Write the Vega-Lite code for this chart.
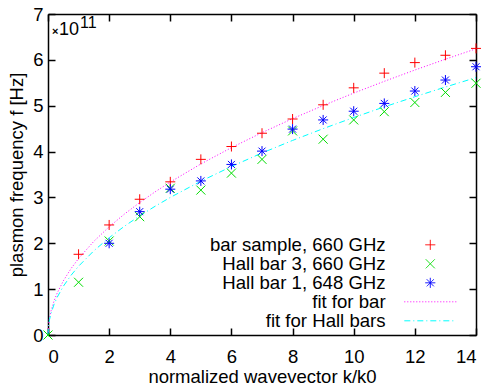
{
  "$schema": "https://vega.github.io/schema/vega-lite/v6.json",
  "width": 428,
  "height": 321,
  "autosize": "none",
  "padding": {"left": 48, "top": 14, "right": 11, "bottom": 55},
  "config": {
    "view": {"stroke": null},
    "font": "Liberation Sans",
    "axis": {
      "labelFont": "Liberation Sans", "labelFontSize": 18.5, "labelColor": "black",
      "titleFont": "Liberation Sans", "titleFontSize": 18.5, "titleFontWeight": "normal", "titleColor": "black",
      "domainColor": "black", "domainWidth": 1.5, "tickColor": "black", "tickWidth": 1.5,
      "tickSize": -7, "grid": false
    }
  },
  "datasets": {
    "pts": [
      {"k": 1, "f": 1.76, "series": "bar sample, 660 GHz"},
      {"k": 2, "f": 2.40, "series": "bar sample, 660 GHz"},
      {"k": 3, "f": 2.96, "series": "bar sample, 660 GHz"},
      {"k": 4, "f": 3.34, "series": "bar sample, 660 GHz"},
      {"k": 5, "f": 3.83, "series": "bar sample, 660 GHz"},
      {"k": 6, "f": 4.11, "series": "bar sample, 660 GHz"},
      {"k": 7, "f": 4.40, "series": "bar sample, 660 GHz"},
      {"k": 8, "f": 4.71, "series": "bar sample, 660 GHz"},
      {"k": 9, "f": 5.02, "series": "bar sample, 660 GHz"},
      {"k": 10, "f": 5.39, "series": "bar sample, 660 GHz"},
      {"k": 11, "f": 5.71, "series": "bar sample, 660 GHz"},
      {"k": 12, "f": 5.94, "series": "bar sample, 660 GHz"},
      {"k": 13, "f": 6.10, "series": "bar sample, 660 GHz"},
      {"k": 14, "f": 6.25, "series": "bar sample, 660 GHz"},
      {"k": 0, "f": 0, "series": "Hall bar 3, 660 GHz"},
      {"k": 1, "f": 1.15, "series": "Hall bar 3, 660 GHz"},
      {"k": 2, "f": 2.05, "series": "Hall bar 3, 660 GHz"},
      {"k": 3, "f": 2.58, "series": "Hall bar 3, 660 GHz"},
      {"k": 4, "f": 3.20, "series": "Hall bar 3, 660 GHz"},
      {"k": 5, "f": 3.16, "series": "Hall bar 3, 660 GHz"},
      {"k": 6, "f": 3.53, "series": "Hall bar 3, 660 GHz"},
      {"k": 7, "f": 3.83, "series": "Hall bar 3, 660 GHz"},
      {"k": 8, "f": 4.45, "series": "Hall bar 3, 660 GHz"},
      {"k": 9, "f": 4.27, "series": "Hall bar 3, 660 GHz"},
      {"k": 10, "f": 4.69, "series": "Hall bar 3, 660 GHz"},
      {"k": 11, "f": 4.87, "series": "Hall bar 3, 660 GHz"},
      {"k": 12, "f": 5.07, "series": "Hall bar 3, 660 GHz"},
      {"k": 13, "f": 5.29, "series": "Hall bar 3, 660 GHz"},
      {"k": 14, "f": 5.49, "series": "Hall bar 3, 660 GHz"},
      {"k": 2, "f": 2.00, "series": "Hall bar 1, 648 GHz"},
      {"k": 3, "f": 2.69, "series": "Hall bar 1, 648 GHz"},
      {"k": 4, "f": 3.18, "series": "Hall bar 1, 648 GHz"},
      {"k": 5, "f": 3.36, "series": "Hall bar 1, 648 GHz"},
      {"k": 6, "f": 3.72, "series": "Hall bar 1, 648 GHz"},
      {"k": 7, "f": 4.01, "series": "Hall bar 1, 648 GHz"},
      {"k": 8, "f": 4.49, "series": "Hall bar 1, 648 GHz"},
      {"k": 9, "f": 4.69, "series": "Hall bar 1, 648 GHz"},
      {"k": 10, "f": 4.88, "series": "Hall bar 1, 648 GHz"},
      {"k": 11, "f": 5.05, "series": "Hall bar 1, 648 GHz"},
      {"k": 12, "f": 5.32, "series": "Hall bar 1, 648 GHz"},
      {"k": 13, "f": 5.56, "series": "Hall bar 1, 648 GHz"},
      {"k": 14, "f": 5.85, "series": "Hall bar 1, 648 GHz"}
    ],
    "fits": [
      {"k": 0, "f": 0, "series": "fit for bar"},
      {"k": 0.02, "f": 0.236, "series": "fit for bar"},
      {"k": 0.05, "f": 0.373, "series": "fit for bar"},
      {"k": 0.1, "f": 0.527, "series": "fit for bar"},
      {"k": 0.2, "f": 0.746, "series": "fit for bar"},
      {"k": 0.3, "f": 0.914, "series": "fit for bar"},
      {"k": 0.5, "f": 1.179, "series": "fit for bar"},
      {"k": 0.75, "f": 1.445, "series": "fit for bar"},
      {"k": 1, "f": 1.668, "series": "fit for bar"},
      {"k": 1.5, "f": 2.043, "series": "fit for bar"},
      {"k": 2, "f": 2.359, "series": "fit for bar"},
      {"k": 2.5, "f": 2.637, "series": "fit for bar"},
      {"k": 3, "f": 2.889, "series": "fit for bar"},
      {"k": 3.5, "f": 3.120, "series": "fit for bar"},
      {"k": 4, "f": 3.336, "series": "fit for bar"},
      {"k": 5, "f": 3.730, "series": "fit for bar"},
      {"k": 6, "f": 4.086, "series": "fit for bar"},
      {"k": 7, "f": 4.413, "series": "fit for bar"},
      {"k": 8, "f": 4.718, "series": "fit for bar"},
      {"k": 9, "f": 5.004, "series": "fit for bar"},
      {"k": 10, "f": 5.275, "series": "fit for bar"},
      {"k": 11, "f": 5.532, "series": "fit for bar"},
      {"k": 12, "f": 5.778, "series": "fit for bar"},
      {"k": 13, "f": 6.014, "series": "fit for bar"},
      {"k": 14, "f": 6.241, "series": "fit for bar"},
      {"k": 0, "f": 0, "series": "fit for Hall bars"},
      {"k": 0.02, "f": 0.212, "series": "fit for Hall bars"},
      {"k": 0.05, "f": 0.335, "series": "fit for Hall bars"},
      {"k": 0.1, "f": 0.474, "series": "fit for Hall bars"},
      {"k": 0.2, "f": 0.671, "series": "fit for Hall bars"},
      {"k": 0.3, "f": 0.822, "series": "fit for Hall bars"},
      {"k": 0.5, "f": 1.061, "series": "fit for Hall bars"},
      {"k": 0.75, "f": 1.299, "series": "fit for Hall bars"},
      {"k": 1, "f": 1.5, "series": "fit for Hall bars"},
      {"k": 1.5, "f": 1.837, "series": "fit for Hall bars"},
      {"k": 2, "f": 2.121, "series": "fit for Hall bars"},
      {"k": 2.5, "f": 2.372, "series": "fit for Hall bars"},
      {"k": 3, "f": 2.598, "series": "fit for Hall bars"},
      {"k": 3.5, "f": 2.806, "series": "fit for Hall bars"},
      {"k": 4, "f": 3.0, "series": "fit for Hall bars"},
      {"k": 5, "f": 3.354, "series": "fit for Hall bars"},
      {"k": 6, "f": 3.674, "series": "fit for Hall bars"},
      {"k": 7, "f": 3.969, "series": "fit for Hall bars"},
      {"k": 8, "f": 4.243, "series": "fit for Hall bars"},
      {"k": 9, "f": 4.5, "series": "fit for Hall bars"},
      {"k": 10, "f": 4.743, "series": "fit for Hall bars"},
      {"k": 11, "f": 4.975, "series": "fit for Hall bars"},
      {"k": 12, "f": 5.196, "series": "fit for Hall bars"},
      {"k": 13, "f": 5.408, "series": "fit for Hall bars"},
      {"k": 14, "f": 5.613, "series": "fit for Hall bars"}
    ]
  },
  "resolve": {"axis": {"x": "independent", "y": "independent"}},
  "layer": [
    {
      "data": {"name": "fits"},
      "mark": {"type": "line", "strokeWidth": 1},
      "encoding": {
        "x": {"field": "k", "type": "quantitative", "scale": {"domain": [0, 14], "nice": false}, "axis": null},
        "y": {"field": "f", "type": "quantitative", "scale": {"domain": [0, 7], "nice": false}, "axis": null},
        "color": {
          "field": "series", "type": "nominal",
          "scale": {
            "domain": ["bar sample, 660 GHz", "Hall bar 3, 660 GHz", "Hall bar 1, 648 GHz", "fit for bar", "fit for Hall bars"],
            "range": ["#ff0000", "#00dd00", "#0000ff", "#ff00ff", "#00ffff"]
          },
          "legend": {"orient": "none", "legendX": 373, "legendY": 221.5, "title": null, "labelAlign": "right", "labelOffset": -54, "labelFontSize": 18.6, "labelLimit": 300, "labelFont": "Liberation Sans", "labelColor": "black", "symbolSize": 100, "symbolStrokeWidth": 1, "rowPadding": 0, "padding": 0}
        },
        "strokeDash": {
          "field": "series", "type": "nominal",
          "scale": {
            "domain": ["bar sample, 660 GHz", "Hall bar 3, 660 GHz", "Hall bar 1, 648 GHz", "fit for bar", "fit for Hall bars"],
            "range": [[1, 0], [1, 0], [1, 0], [1, 2], [6, 3, 1, 3]]
          },
          "legend": {"orient": "none", "legendX": 373, "legendY": 221.5, "title": null, "labelAlign": "right", "labelOffset": -54, "labelFontSize": 18.6, "labelLimit": 300, "labelFont": "Liberation Sans", "labelColor": "black", "symbolSize": 100, "symbolStrokeWidth": 1, "rowPadding": 0, "padding": 0}
        }
      }
    },
    {
      "data": {"name": "pts"},
      "mark": {"type": "point", "filled": false, "strokeWidth": 1, "size": 100, "opacity": 1},
      "encoding": {
        "x": {"field": "k", "type": "quantitative", "axis": {"orient": "bottom", "values": [0, 2, 4, 6, 8, 10, 12, 14], "title": "normalized wavevector k/k0", "labelPadding": 19, "titlePadding": 2}},
        "y": {"field": "f", "type": "quantitative", "axis": {"orient": "left", "values": [0, 1, 2, 3, 4, 5, 6, 7], "title": "plasmon frequency f [Hz]", "labelPadding": 12, "titlePadding": 6}},
        "color": {"field": "series", "type": "nominal"},
        "shape": {
          "field": "series", "type": "nominal",
          "scale": {
            "domain": ["bar sample, 660 GHz", "Hall bar 3, 660 GHz", "Hall bar 1, 648 GHz", "fit for bar", "fit for Hall bars"],
            "range": ["M-1,0H1M0,-1V1", "M-0.9,-0.9L0.9,0.9M-0.9,0.9L0.9,-0.9", "M-1,0H1M0,-1V1M-0.7,-0.7L0.7,0.7M-0.7,0.7L0.7,-0.7", "M-5.2,0H5.2", "M-5.2,0H5.2"]
          },
          "legend": {"orient": "none", "legendX": 373, "legendY": 221.5, "title": null, "labelAlign": "right", "labelOffset": -54, "labelFontSize": 18.6, "labelLimit": 300, "labelFont": "Liberation Sans", "labelColor": "black", "symbolSize": 100, "symbolStrokeWidth": 1, "rowPadding": 0, "padding": 0}
        }
      }
    },
    {
      "data": {"values": [{"k": 0, "f": 7, "t": "×"}]},
      "mark": {"type": "text", "align": "left", "baseline": "alphabetic", "dx": 4, "dy": 21, "fontSize": 11, "fontWeight": "bold", "font": "Liberation Sans", "color": "black"},
      "encoding": {
        "x": {"field": "k", "type": "quantitative", "axis": {"orient": "top", "values": [0, 2, 4, 6, 8, 10, 12, 14], "labels": false, "title": null}},
        "y": {"field": "f", "type": "quantitative", "axis": {"orient": "right", "values": [0, 1, 2, 3, 4, 5, 6, 7], "labels": false, "title": null}},
        "text": {"field": "t"}
      }
    },
    {
      "data": {"values": [{"k": 0, "f": 7, "t": "10"}]},
      "mark": {"type": "text", "align": "left", "baseline": "alphabetic", "dx": 11, "dy": 21, "fontSize": 18, "font": "Liberation Sans", "color": "black"},
      "encoding": {
        "x": {"field": "k", "type": "quantitative", "axis": null},
        "y": {"field": "f", "type": "quantitative", "axis": null},
        "text": {"field": "t"}
      }
    },
    {
      "data": {"values": [{"k": 0, "f": 7, "t": "11"}]},
      "mark": {"type": "text", "align": "left", "baseline": "alphabetic", "dx": 32, "dy": 14, "fontSize": 16, "font": "Liberation Sans", "color": "black"},
      "encoding": {
        "x": {"field": "k", "type": "quantitative", "axis": null},
        "y": {"field": "f", "type": "quantitative", "axis": null},
        "text": {"field": "t"}
      }
    }
  ]
}
